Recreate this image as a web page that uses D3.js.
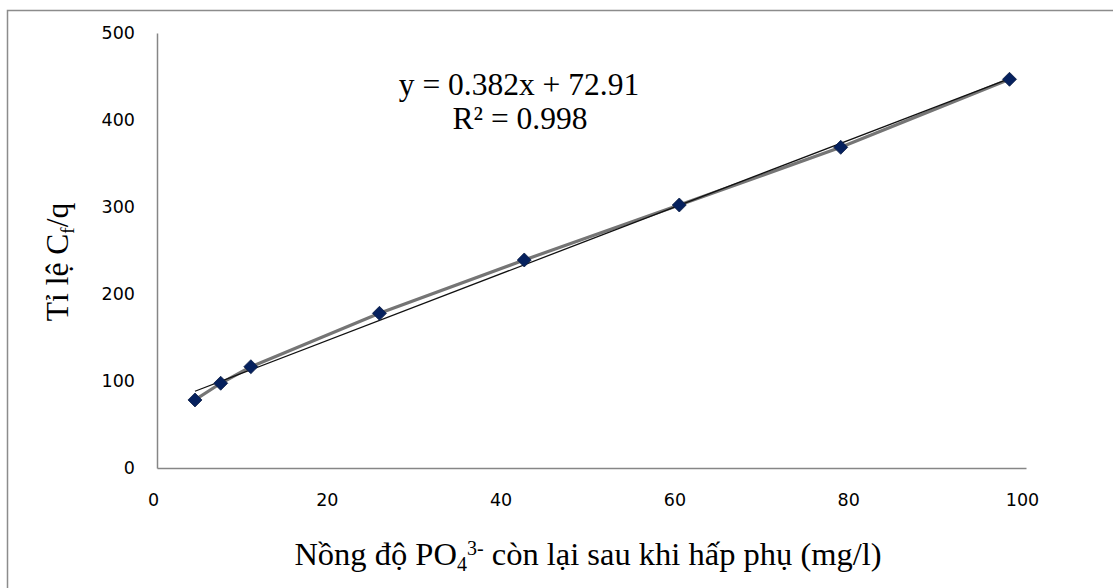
<!DOCTYPE html>
<html>
<head>
<meta charset="utf-8">
<script src="https://cdn.jsdelivr.net/npm/d3@7"></script>
<style>
  html, body { margin: 0; padding: 0; background: #fff; }
  svg { display: block; }
</style>
</head>
<body>
<svg id="chart" width="1113" height="588"></svg>
<script>
// Residual PO4(3-) concentration (mg/l) and the ratio Cf/q
const concentration = [4.37, 7.33, 10.8, 25.6, 42.26, 60.1, 78.68, 98.1];
const ratio = [78.2, 97.4, 116.4, 177.8, 239.1, 302.3, 368.6, 446.8];
const xTicks = [0, 20, 40, 60, 80, 100];
const yTicks = [0, 100, 200, 300, 400, 500];
const equationText = "y = 0.382x + 72.91";
const r2Text = "R² = 0.998";

const svg = d3.select("#chart");
const serif = "'Liberation Serif', 'Times New Roman', serif";
const sans = "'DejaVu Sans', Verdana, sans-serif";

// chart frame
svg.append("rect")
  .attr("x", 7.5).attr("y", 10.5)
  .attr("width", 1130).attr("height", 600)
  .attr("fill", "#fff")
  .attr("stroke", "#8c8c8c").attr("stroke-width", 1.5);

const plot = { left: 157, right: 1026, top: 33, bottom: 468 };
const x = d3.scaleLinear().domain([0, 100]).range([plot.left, plot.right]);
const y = d3.scaleLinear().domain([0, 500]).range([plot.bottom, plot.top]);

// axes (no tick marks, grey axis lines)
const xAxis = svg.append("g")
  .attr("transform", `translate(0,${plot.bottom})`)
  .call(d3.axisBottom(x).tickValues(xTicks).tickSize(0).tickPadding(32));
const yAxis = svg.append("g")
  .attr("transform", `translate(${plot.left},0)`)
  .call(d3.axisLeft(y).tickValues(yTicks).tickSize(0).tickPadding(22));

[xAxis, yAxis].forEach(g => {
  g.select(".domain").attr("stroke", "#868686").attr("stroke-width", 1.5);
  g.selectAll("text")
    .attr("font-family", sans).attr("font-size", 17.5).attr("fill", "#000");
});
xAxis.selectAll("text").attr("dx", -4).attr("dy", "0.35em");

// series line through the measured points
const pts = concentration.map((c, i) => [c, ratio[i]]);
svg.append("path")
  .datum(pts)
  .attr("fill", "none")
  .attr("stroke", "#757575").attr("stroke-width", 3.2)
  .attr("d", d3.line().x(d => x(d[0])).y(d => y(d[1])));

// linear trendline, least squares through the data
const n = concentration.length;
const mx = d3.mean(concentration), my = d3.mean(ratio);
let sxy = 0, sxx = 0;
for (let i = 0; i < n; i++) {
  sxy += (concentration[i] - mx) * (ratio[i] - my);
  sxx += (concentration[i] - mx) ** 2;
}
const slope = sxy / sxx, intercept = my - slope * mx;
const xMin = d3.min(concentration), xMax = d3.max(concentration);

svg.append("line")
  .attr("x1", x(xMin)).attr("y1", y(slope * xMin + intercept))
  .attr("x2", x(xMax)).attr("y2", y(slope * xMax + intercept))
  .attr("stroke", "#111").attr("stroke-width", 1.3);

// diamond markers
svg.append("g").selectAll("path")
  .data(pts)
  .join("path")
  .attr("transform", d => `translate(${x(d[0])},${y(d[1])})`)
  .attr("d", d3.symbol().type(d3.symbolDiamond2).size(125))
  .attr("fill", "#06215e").attr("stroke", "#0b1d44").attr("stroke-width", 0.8);

// regression equation
svg.append("text")
  .attr("x", 519).attr("y", 95).attr("text-anchor", "middle")
  .attr("font-family", serif).attr("font-size", 31.5).attr("fill", "#000")
  .text(equationText);
svg.append("text")
  .attr("x", 520).attr("y", 129).attr("text-anchor", "middle")
  .attr("font-family", serif).attr("font-size", 31.5).attr("fill", "#000")
  .text(r2Text);

// y-axis title: Tỉ lệ C_f/q
const yTitle = svg.append("text")
  .attr("transform", "translate(68,262) rotate(-90)")
  .attr("text-anchor", "middle")
  .attr("font-family", serif).attr("font-size", 31.5).attr("fill", "#000");
yTitle.append("tspan").text("Tỉ lệ C");
yTitle.append("tspan").attr("font-size", 19).attr("dy", 6).text("f");
yTitle.append("tspan").attr("dy", -6).text("/q");

// x-axis title: Nồng độ PO4^3- còn lại sau khi hấp phụ (mg/l)
const xTitle = svg.append("text")
  .attr("x", 588).attr("y", 565)
  .attr("text-anchor", "middle")
  .attr("font-family", serif).attr("font-size", 32.5).attr("fill", "#000");
xTitle.append("tspan").text("Nồng độ PO");
xTitle.append("tspan").attr("font-size", 20).attr("dy", 6).text("4");
xTitle.append("tspan").attr("font-size", 20).attr("dy", -16).text("3-");
xTitle.append("tspan").attr("dy", 10).text(" còn lại sau khi hấp phụ (mg/l)");
</script>
</body>
</html>
